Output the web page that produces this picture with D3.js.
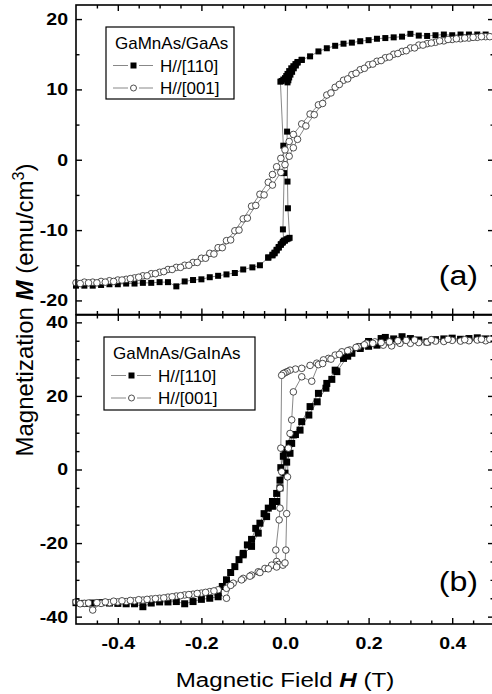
<!DOCTYPE html>
<html>
<head>
<meta charset="utf-8">
<script src="https://cdn.jsdelivr.net/npm/d3@7"></script>
<style>
body { margin: 0; background: #fff; }
svg { display: block; font-family: "Liberation Sans", Arial, sans-serif; }
</style>
</head>
<body>
<svg></svg>
<script>
// field ticks (T) and magnetization ticks (emu/cm3)
var xMajor = [-0.4, -0.2, 0.0, 0.2, 0.4];
var xMinor = [-0.45, -0.35, -0.3, -0.25, -0.15, -0.1, -0.05, 0.05, 0.1, 0.15, 0.25, 0.3, 0.35, 0.45];
var yMajorA = [-20, -10, 0, 10, 20];
var yMinorA = [-15, -5, 5, 15];
var yMajorB = [-40, -20, 0, 20, 40];
var yMinorB = [-35, -30, -25, -15, -10, -5, 5, 10, 15, 25, 30, 35];

var legendA = ['GaMnAs/GaAs', 'H//[110]', 'H//[001]'];
var legendB = ['GaMnAs/GaInAs', 'H//[110]', 'H//[001]'];

// (a) GaMnAs/GaAs, H//[110], sweep down then back up near zero
var a110Down = [[0.48,17.8],[0.46,17.8],[0.44,17.8],[0.42,17.8],[0.40,17.7],[0.38,17.8],[0.36,17.7],[0.34,17.6],
  [0.32,17.65],[0.30,17.9],[0.28,17.5],[0.26,17.4],[0.24,17.3],[0.22,17.2],[0.20,17.0],[0.18,16.85],[0.16,16.65],
  [0.14,16.5],[0.12,16.2],[0.10,15.85],[0.08,15.4],[0.06,14.7],[0.04,14.2],[0.03,13.9],[0.025,13.6],[0.02,13.3],
  [0.015,13.0],[0.01,12.6],[0.006,12.2],[0.003,11.9],[0.0,11.6],[-0.004,11.4],[-0.008,11.2],[-0.011,11.1],
  [-0.004,2.0],[-0.002,-1.9],[-0.005,-9.9],[-0.003,-11.5],[-0.006,-11.8],[-0.01,-12.1],[-0.015,-12.5],[-0.02,-12.9],
  [-0.025,-13.3],[-0.03,-13.6],[-0.04,-13.9],[-0.06,-15.0],[-0.078,-15.3],[-0.10,-15.6],[-0.12,-16.1],[-0.14,-16.3],
  [-0.16,-16.5],[-0.18,-16.7],[-0.20,-17.0],[-0.22,-17.1],[-0.24,-17.3],[-0.26,-18.0],[-0.28,-17.4],[-0.30,-17.4],
  [-0.32,-17.5],[-0.34,-17.5],[-0.36,-17.6],[-0.38,-17.6],[-0.40,-17.7],[-0.42,-17.7],[-0.44,-17.8],[-0.46,-17.9],
  [-0.48,-17.9],[-0.50,-17.9]];
var a110Up = [[-0.04,-13.9],[-0.03,-13.5],[-0.025,-13.2],[-0.02,-12.8],[-0.015,-12.4],[-0.01,-12.0],[-0.005,-11.7],
  [0.0,-11.5],[0.004,-11.3],[0.008,-11.2],[0.011,-11.1],[0.007,-6.9],[0.006,-3.1],[0.005,4.0],[0.006,11.0],
  [0.008,11.3],[0.01,11.7],[0.013,12.1],[0.017,12.5],[0.021,13.0],[0.026,13.4],[0.03,13.8],[0.04,14.2]];

// (a) GaMnAs/GaAs, H//[001]
var a001Down = [[0.50,17.5],[0.48,17.5],[0.46,17.4],[0.44,17.3],[0.42,17.2],[0.40,17.1],[0.38,16.9],[0.36,16.7],
  [0.34,16.5],[0.32,16.3],[0.30,15.9],[0.28,15.4],[0.26,15.0],[0.24,14.5],[0.22,14.0],[0.20,13.5],[0.18,12.8],
  [0.16,12.1],[0.14,11.3],[0.12,10.3],[0.10,9.2],[0.08,7.8],[0.06,6.5],[0.04,5.1],[0.02,3.6],[0.01,2.6],[0.0,1.4],
  [-0.01,0.2],[-0.02,-1.0],[-0.03,-2.1],[-0.04,-3.2],[-0.06,-4.9],[-0.08,-6.6],[-0.10,-8.4],[-0.12,-10.1],
  [-0.14,-11.5],[-0.16,-12.5],[-0.18,-13.3],[-0.20,-14.0],[-0.22,-14.6],[-0.24,-15.0],[-0.26,-15.3],[-0.28,-15.6],
  [-0.30,-16.0],[-0.32,-16.2],[-0.34,-16.5],[-0.36,-16.8],[-0.38,-17.0],[-0.40,-17.1],[-0.42,-17.2],[-0.44,-17.3],
  [-0.46,-17.4],[-0.48,-17.4],[-0.50,-17.5]];
var a001Up = [[-0.49,-17.6],[-0.47,-17.5],[-0.45,-17.5],[-0.43,-17.4],[-0.41,-17.3],[-0.39,-17.1],[-0.37,-16.9],
  [-0.35,-16.7],[-0.33,-16.5],[-0.31,-16.2],[-0.29,-15.9],[-0.27,-15.6],[-0.25,-15.3],[-0.23,-15.0],[-0.21,-14.6],
  [-0.19,-14.0],[-0.17,-13.4],[-0.15,-12.5],[-0.13,-11.4],[-0.11,-10.0],[-0.09,-8.3],[-0.07,-6.5],[-0.05,-5.0],
  [-0.03,-3.6],[-0.01,-1.8],[0.0,-0.7],[0.01,0.5],[0.02,1.7],[0.03,2.9],[0.05,4.8],[0.07,6.4],[0.09,8.0],
  [0.11,9.5],[0.13,10.7],[0.15,11.5],[0.17,12.3],[0.19,13.0],[0.21,13.6],[0.23,14.1],[0.25,14.6],[0.27,15.1],
  [0.29,15.5],[0.31,15.9],[0.33,16.3],[0.35,16.6],[0.37,16.9],[0.39,17.1],[0.41,17.2],[0.43,17.3],[0.45,17.4],
  [0.47,17.5],[0.49,17.5]];

// (b) GaMnAs/GaInAs, H//[110]
var b110Down = [[0.50,35.6],[0.48,35.5],[0.46,35.8],[0.44,35.6],[0.42,35.4],[0.40,35.7],[0.38,35.5],[0.36,35.3],
  [0.34,34.7],[0.32,35.2],[0.30,35.6],[0.28,36.1],[0.26,35.5],[0.24,35.9],[0.22,33.8],[0.20,33.5],[0.18,32.9],
  [0.16,31.6],[0.14,30.2],[0.12,27.0],[0.10,23.4],[0.08,20.7],[0.06,17.1],[0.04,13.0],[0.02,9.4],[0.01,7.0],
  [0.0,5.3],[-0.004,3.6],[-0.01,0.5],[-0.012,-2.9],[-0.02,-6.5],[-0.03,-8.7],[-0.04,-10.5],[-0.05,-12.0],
  [-0.06,-14.6],[-0.07,-16.0],[-0.08,-19.0],[-0.09,-20.5],[-0.10,-22.8],[-0.12,-26.4],[-0.14,-30.0],[-0.16,-34.6],
  [-0.18,-35.0],[-0.20,-35.3],[-0.22,-35.9],[-0.24,-36.5],[-0.26,-35.9],[-0.28,-36.0],[-0.30,-36.0],[-0.32,-36.3],
  [-0.34,-37.3],[-0.36,-36.5],[-0.38,-36.5],[-0.40,-36.4],[-0.42,-36.3],[-0.44,-36.2],[-0.46,-36.3],[-0.48,-36.4],
  [-0.50,-36.2]];
var b110Up = [[-0.16,-33.5],[-0.15,-31.8],[-0.13,-28.0],[-0.11,-24.5],[-0.10,-23.2],[-0.08,-20.9],[-0.064,-17.3],
  [-0.044,-12.8],[-0.03,-10.0],[-0.02,-8.7],[-0.012,-5.0],[0.0,-1.0],[0.004,2.0],[0.012,4.4],[0.016,7.1],
  [0.025,9.5],[0.036,10.7],[0.057,14.8],[0.077,18.4],[0.098,22.1],[0.112,24.5],[0.124,26.6],[0.15,30.8],
  [0.18,33.4],[0.20,34.8],[0.23,35.6]];

// (b) GaMnAs/GaInAs, H//[001]
var b001Down = [[0.50,35.3],[0.48,35.0],[0.46,35.2],[0.44,35.0],[0.42,34.9],[0.40,35.1],[0.38,34.8],[0.36,34.9],
  [0.34,34.6],[0.32,34.5],[0.30,34.3],[0.275,34.3],[0.255,33.6],[0.235,33.8],[0.215,34.7],[0.195,34.3],
  [0.175,33.4],[0.155,32.5],[0.136,32.0],[0.12,31.1],[0.104,30.2],[0.092,29.8],[0.076,28.9],[0.06,28.3],
  [0.04,27.5],[0.025,27.3],[0.012,27.0],[0.005,26.6],[0.0,26.3],[-0.004,26.1],[-0.008,25.6],[-0.01,5.8],
  [-0.008,-0.6],[-0.012,-5.1],[-0.012,-10.5],[-0.014,-13.7],[-0.022,-21.9],[-0.02,-25.0],[-0.015,-25.8],
  [-0.025,-26.0],[-0.032,-26.0],[-0.048,-26.9],[-0.064,-27.8],[-0.08,-28.7],[-0.10,-29.6],[-0.124,-30.9],
  [-0.14,-32.3],[-0.16,-32.7],[-0.18,-33.2],[-0.20,-33.6],[-0.22,-33.9],[-0.24,-34.1],[-0.26,-34.4],[-0.28,-34.7],
  [-0.30,-35.0],[-0.32,-35.2],[-0.34,-35.5],[-0.36,-35.7],[-0.38,-35.9],[-0.40,-36.0],[-0.42,-36.2],[-0.44,-36.4],
  [-0.46,-38.2],[-0.48,-36.4],[-0.50,-36.0]];
var b001Up = [[-0.49,-36.5],[-0.47,-36.3],[-0.45,-36.2],[-0.43,-36.0],[-0.41,-35.8],[-0.39,-35.7],[-0.37,-35.6],
  [-0.35,-35.4],[-0.33,-35.3],[-0.31,-35.1],[-0.29,-34.9],[-0.27,-34.6],[-0.25,-34.3],[-0.23,-34.0],[-0.21,-33.7],
  [-0.19,-33.4],[-0.17,-33.0],[-0.14,-35.0],[-0.13,-31.5],[-0.104,-30.0],[-0.084,-29.0],[-0.06,-28.0],
  [-0.04,-27.0],[-0.02,-26.5],[-0.005,-26.0],[0.0,-25.4],[0.002,-21.9],[0.004,-12.0],[0.006,-2.0],[0.008,5.8],
  [0.012,9.8],[0.016,13.5],[0.02,21.1],[0.04,25.2],[0.064,24.0],[0.08,28.5],[0.09,28.8],[0.11,30.0],[0.13,31.3],
  [0.15,32.3],[0.17,33.2],[0.19,33.9],[0.21,34.3],[0.23,34.5],[0.25,34.7],[0.27,35.0],[0.29,35.1],[0.31,35.2],
  [0.35,35.3],[0.39,35.4],[0.43,35.3],[0.47,35.4],[0.49,35.4]];

var width = 492;
var height = 694;
var sx = 1.15; // the figure's lettering is a bit wider than plain Arial

var svg = d3.select('svg')
  .attr('width', width)
  .attr('height', height);

var scaleX = d3.scaleLinear().domain([-0.5, 0.5]).range([76, 494]);
var scaleYA = d3.scaleLinear().domain([-22, 22]).range([314.5, 5]);
var scaleYB = d3.scaleLinear().domain([-42, 42]).range([624, 315]);

function drawFrame(scaleY, yMajor, yMinor, showX) {
  var top = scaleY.range()[1];
  var bottom = scaleY.range()[0];
  var left = scaleX.range()[0];
  var right = scaleX.range()[1];

  var axes = [
    [d3.axisBottom, bottom, 'x'], [d3.axisTop, top, 'x'],
    [d3.axisLeft, left, 'y'], [d3.axisRight, right, 'y']
  ];
  axes.forEach(function(a) {
    var isX = a[2] === 'x';
    var sc = isX ? scaleX : scaleY;
    var tr = isX ? 'translate(0,' + a[1] + ')' : 'translate(' + a[1] + ',0)';
    var major = a[0](sc).tickValues(isX ? xMajor : yMajor).tickSizeInner(-6).tickSizeOuter(0);
    var minor = a[0](sc).tickValues(isX ? xMinor : yMinor).tickSizeInner(-3.5).tickSizeOuter(0).tickFormat('');
    var labelled = (a[0] === d3.axisLeft) || (a[0] === d3.axisBottom && showX);
    if (labelled) {
      major.tickPadding(isX ? 13 : 8)
        .tickFormat(isX ? function(d) { return d.toFixed(1); } : function(d) { return String(d); });
    } else {
      major.tickFormat('');
    }
    var gMinor = svg.append('g').attr('transform', tr).call(minor);
    var gMajor = svg.append('g').attr('transform', tr).call(major);
    [gMinor, gMajor].forEach(function(gg) {
      gg.select('.domain').remove();
      gg.selectAll('line').attr('stroke', '#000').attr('stroke-width', 1.4);
    });
    gMajor.selectAll('text')
      .attr('fill', '#000')
      .style('font-size', '17px')
      .style('font-weight', 'bold')
      .attr('transform', 'scale(' + sx + ',1)')
      .attr('x', isX ? 0 : -8 / sx);
  });

  svg.append('rect')
    .attr('x', left)
    .attr('y', top)
    .attr('width', right - left)
    .attr('height', bottom - top)
    .attr('fill', 'none')
    .attr('stroke', '#000')
    .attr('stroke-width', 1.6);
}

function drawLine(scaleY, data) {
  var line = d3.line()
    .x(function(d) { return scaleX(d[0]); })
    .y(function(d) { return scaleY(d[1]); });
  svg.append('path')
    .datum(data)
    .attr('d', line)
    .attr('fill', 'none')
    .attr('stroke', '#6a6a6a')
    .attr('stroke-width', 0.8);
}

function drawSquares(scaleY, data, size) {
  svg.append('g').selectAll('rect')
    .data(data)
    .enter().append('rect')
    .attr('x', function(d) { return scaleX(d[0]) - size / 2; })
    .attr('y', function(d) { return scaleY(d[1]) - size / 2; })
    .attr('width', size)
    .attr('height', size)
    .attr('fill', '#000');
}

function drawCircles(scaleY, data) {
  svg.append('g').selectAll('circle')
    .data(data)
    .enter().append('circle')
    .attr('cx', function(d) { return scaleX(d[0]); })
    .attr('cy', function(d) { return scaleY(d[1]); })
    .attr('r', 3.3)
    .attr('fill', '#fff')
    .attr('stroke', '#222')
    .attr('stroke-width', 0.8);
}

function drawLegend(labels, x0, y0, w, h) {
  var lg = svg.append('g').attr('transform', 'translate(' + x0 + ',' + y0 + ')');
  lg.append('rect')
    .attr('width', w)
    .attr('height', h)
    .attr('fill', '#fff')
    .attr('stroke', '#000')
    .attr('stroke-width', 1.2);
  lg.append('text')
    .attr('x', 9)
    .attr('y', 22)
    .style('font-size', '17px')
    .text(labels[0]);
  [1, 2].forEach(function(i) {
    var yy = 16 + i * 22.5;
    lg.append('line').attr('x1', 7).attr('x2', 22).attr('y1', yy).attr('y2', yy)
      .attr('stroke', '#6a6a6a').attr('stroke-width', 0.8);
    lg.append('line').attr('x1', 33).attr('x2', 47).attr('y1', yy).attr('y2', yy)
      .attr('stroke', '#6a6a6a').attr('stroke-width', 0.8);
    if (i === 1) {
      lg.append('rect').attr('x', 24.5).attr('y', yy - 3).attr('width', 6).attr('height', 6).attr('fill', '#000');
    } else {
      lg.append('circle').attr('cx', 27.5).attr('cy', yy).attr('r', 3)
        .attr('fill', '#fff').attr('stroke', '#222').attr('stroke-width', 0.8);
    }
    lg.append('text')
      .attr('x', 54)
      .attr('y', yy + 6)
      .style('font-size', '17px')
      .text(labels[i]);
  });
}

// panel (a)
drawLine(scaleYA, a110Down);
drawLine(scaleYA, a110Up);
drawLine(scaleYA, a001Down);
drawLine(scaleYA, a001Up);
drawSquares(scaleYA, a110Down, 6);
drawSquares(scaleYA, a110Up, 6);
drawCircles(scaleYA, a001Down);
drawCircles(scaleYA, a001Up);

// panel (b)
drawLine(scaleYB, b110Down);
drawLine(scaleYB, b110Up);
drawLine(scaleYB, b001Down);
drawLine(scaleYB, b001Up);
drawSquares(scaleYB, b110Down, 7);
drawSquares(scaleYB, b110Up, 7);
drawCircles(scaleYB, b001Down);
drawCircles(scaleYB, b001Up);

drawFrame(scaleYA, yMajorA, yMinorA, false);
drawFrame(scaleYB, yMajorB, yMinorB, true);

drawLegend(legendA, 106, 27, 128, 72);
drawLegend(legendB, 104, 337, 151, 73);

svg.append('text')
  .attr('transform', 'translate(478,285) scale(' + sx + ',1)')
  .attr('text-anchor', 'end')
  .style('font-size', '28px')
  .text('(a)');
svg.append('text')
  .attr('transform', 'translate(478,591) scale(' + sx + ',1)')
  .attr('text-anchor', 'end')
  .style('font-size', '28px')
  .text('(b)');

var xTitle = svg.append('text')
  .attr('transform', 'translate(285,687) scale(' + sx + ',1)')
  .attr('text-anchor', 'middle')
  .style('font-size', '21px');
xTitle.append('tspan').text('Magnetic Field ');
xTitle.append('tspan').style('font-weight', 'bold').style('font-style', 'italic').text('H');
xTitle.append('tspan').text(' (T)');

var yTitle = svg.append('text')
  .attr('transform', 'translate(33,310) rotate(-90)')
  .attr('text-anchor', 'middle')
  .style('font-size', '24px');
yTitle.append('tspan').text('Magnetization ');
yTitle.append('tspan').style('font-weight', 'bold').style('font-style', 'italic').text('M');
yTitle.append('tspan').text(' (emu/cm');
yTitle.append('tspan').attr('dy', -9).style('font-size', '16px').text('3');
yTitle.append('tspan').attr('dy', 9).text(')');
</script>
</body>
</html>
